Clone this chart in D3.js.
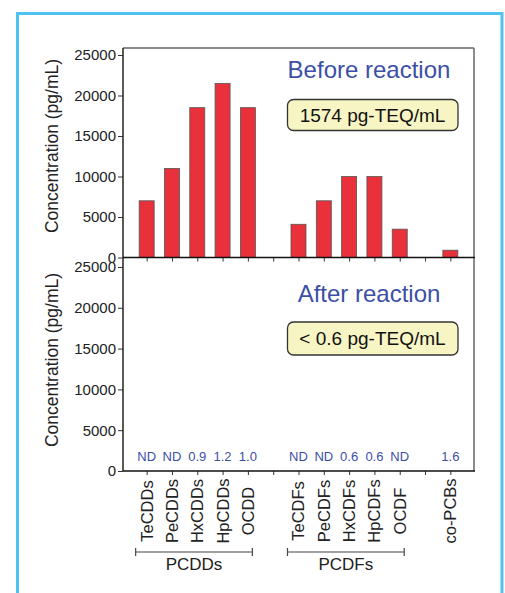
<!DOCTYPE html>
<html><head><meta charset="utf-8">
<script src="https://cdn.jsdelivr.net/npm/d3@7"></script>
<style>
html,body{margin:0;padding:0;background:#fff;}
svg{display:block;font-family:"Liberation Sans",Arial,sans-serif;}
</style></head>
<body>
<svg id="c" width="505" height="593"></svg>
<script>
// ---- data ----
const slots = ["TeCDDs","PeCDDs","HxCDDs","HpCDDs","OCDD","gap1","TeCDFs","PeCDFs","HxCDFs","HpCDFs","OCDF","gap2","co-PCBs"];
const tickLabels = ["TeCDDs","PeCDDs","HxCDDs","HpCDDs","OCDD","","TeCDFs","PeCDFs","HxCDFs","HpCDFs","OCDF","","co-PCBs"];
const beforeValues = [7000, 11000, 18500, 21500, 18500, null, 4100, 7000, 10000, 10000, 3500, null, 900];
const afterLabels = ["ND","ND","0.9","1.2","1.0","","ND","ND","0.6","0.6","ND","","1.6"];
const yTicks = [0, 5000, 10000, 15000, 20000, 25000];
const groups = [{name:"PCDDs", from:"TeCDDs", to:"OCDD"}, {name:"PCDFs", from:"TeCDFs", to:"OCDF"}];
const titles = ["Before reaction", "After reaction"];
const teqLabels = ["1574 pg-TEQ/mL", "< 0.6 pg-TEQ/mL"];

const svg = d3.select("#c");
// outer blue frame
svg.append("rect").attr("x",17.5).attr("y",13.5).attr("width",484.5).attr("height",620)
  .attr("fill","none").attr("stroke","#4fc3ef").attr("stroke-width",3);

const L = 123, R = 474;
const x = d3.scalePoint().domain(slots).range([L, R]).padding(0.935);
const yTop = d3.scaleLinear().domain([0,25000]).range([257.5, 55]);
const yBot = d3.scaleLinear().domain([0,25000]).range([471, 267]);
const topFrame = 48;

// frame (gray top & right)
svg.append("line").attr("x1",L).attr("x2",R).attr("y1",topFrame).attr("y2",topFrame).attr("stroke","#666").attr("stroke-width",1.5);
svg.append("line").attr("x1",R).attr("x2",R).attr("y1",topFrame).attr("y2",yBot(0)).attr("stroke","#666").attr("stroke-width",1.5);

function yAxis(y, top) {
  const g = svg.append("g").attr("transform",`translate(${L},0)`);
  const minor = d3.range(0, 26000, 1000).filter(v => v % 5000 !== 0);
  g.call(d3.axisLeft(y).tickValues(minor).tickSize(3).tickFormat(""));
  g.call(d3.axisLeft(y).tickValues(yTicks).tickSize(5).tickPadding(2).tickFormat(d3.format("d")));
  g.selectAll(".domain").remove();
  g.selectAll("line").attr("stroke","#333");
  g.selectAll("text").attr("font-size",15).attr("fill","#222").attr("font-family","Liberation Sans, Arial, sans-serif");
  svg.append("line").attr("x1",L).attr("x2",L).attr("y1",top).attr("y2",y(0)).attr("stroke","#222").attr("stroke-width",1.5);
}
yAxis(yTop, topFrame);
yAxis(yBot, yTop(0));

function xAxis(y) {
  const g = svg.append("g").attr("transform",`translate(0,${y(0)})`);
  g.call(d3.axisBottom(x).tickSize(4).tickFormat(""));
  g.select(".domain").remove();
  g.selectAll("line").attr("stroke","#333");
  svg.append("line").attr("x1",L).attr("x2",R+1).attr("y1",y(0)).attr("y2",y(0)).attr("stroke","#111").attr("stroke-width",1.6);
}

// bars (before)
const bw = 15;
svg.append("g").selectAll("rect").data(slots.map((s,i)=>({s, v:beforeValues[i]})).filter(d=>d.v!=null))
  .join("rect")
  .attr("x", d => x(d.s) - bw/2).attr("width", bw)
  .attr("y", d => yTop(d.v)).attr("height", d => yTop(0) - yTop(d.v))
  .attr("fill","#e8313a").attr("stroke","#555").attr("stroke-width",0.8);

xAxis(yTop);
xAxis(yBot);

// after labels
svg.append("g").selectAll("text").data(slots.map((s,i)=>({s, t:afterLabels[i]})).filter(d=>d.t))
  .join("text").attr("x", d => x(d.s)).attr("y", 461).attr("text-anchor","middle")
  .attr("font-size",13).attr("fill","#3c4fa6").text(d => d.t);

// x tick labels rotated
svg.append("g").selectAll("text").data(slots.map((s,i)=>({s, t:tickLabels[i]})).filter(d=>d.t))
  .join("text")
  .attr("transform", d => `translate(${x(d.s)},511) rotate(-90)`)
  .attr("text-anchor","middle").attr("dy","0.36em")
  .attr("font-size",16.5).attr("fill","#222").text(d => d.t);

// group brackets
groups.forEach(gr => {
  const x1 = x(gr.from) - 11, x2 = x(gr.to) + 4.5, yy = 552;
  const g = svg.append("g").attr("stroke","#444").attr("stroke-width",1.2);
  g.append("line").attr("x1",x1).attr("x2",x2).attr("y1",yy).attr("y2",yy);
  g.append("line").attr("x1",x1).attr("x2",x1).attr("y1",yy-4).attr("y2",yy+4);
  g.append("line").attr("x1",x2).attr("x2",x2).attr("y1",yy-4).attr("y2",yy+4);
  svg.append("text").attr("x",(x1+x2)/2).attr("y",570).attr("text-anchor","middle")
    .attr("font-size",17).attr("fill","#222").text(gr.name);
});

// y axis titles
[[yTop, topFrame],[yBot, yTop(0)]].forEach(([y, top], i) => {
  const cy = i === 0 ? 146 : 360;
  svg.append("text").attr("transform",`translate(52,${cy}) rotate(-90)`)
    .attr("text-anchor","middle").attr("dy","0.36em").attr("font-size",17.5).attr("fill","#222")
    .text("Concentration (pg/mL)");
});

// panel titles & TEQ boxes
const titleY = [78, 302], boxY = [99.5, 322], boxH = [31, 33];
titles.forEach((t,i) => {
  svg.append("text").attr("x",369).attr("y",titleY[i]).attr("text-anchor","middle")
    .attr("font-size",24).attr("fill","#3c4fa6").text(t);
  svg.append("rect").attr("x",287.5).attr("y",boxY[i]).attr("width",170.5).attr("height",boxH[i]).attr("rx",6)
    .attr("fill","#f8f5c4").attr("stroke","#333").attr("stroke-width",1.3);
  svg.append("text").attr("x",372.5).attr("y",boxY[i] + boxH[i]/2).attr("dy","0.36em").attr("text-anchor","middle")
    .attr("font-size",19).attr("fill","#111").text(teqLabels[i]);
});
</script>
</body></html>
